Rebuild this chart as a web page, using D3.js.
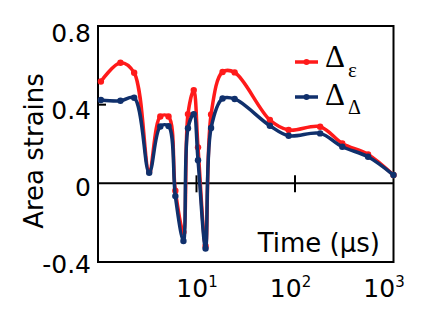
<!DOCTYPE html>
<html>
<head>
<meta charset="utf-8">
<script src="https://cdn.jsdelivr.net/npm/d3@7"></script>
<style>
  body { margin: 0; background: #fff; }
  text { font-family: "DejaVu Sans", sans-serif; fill: #000; }
</style>
</head>
<body>
<div id="chart"></div>
<script>
// Values
const times = [1.07, 1.69, 2.33, 3.31, 4.29, 5.2, 6.1, 7.37, 8.19, 9.38, 10.36, 12.36, 14.06, 18.4, 24.4, 55.6, 86.2, 180, 302, 552, 1000];
const strainEps = [0.518, 0.613, 0.562, 0.063, 0.340, 0.340, -0.038, -0.248, 0.352, 0.474, 0.183, -0.319, 0.350, 0.566, 0.564, 0.322, 0.271, 0.288, 0.203, 0.147, 0.042];
const strainDelta = [0.424, 0.420, 0.435, 0.054, 0.289, 0.291, -0.065, -0.293, 0.280, 0.352, 0.118, -0.331, 0.281, 0.431, 0.429, 0.293, 0.242, 0.254, 0.186, 0.135, 0.042];
const yTicks = [-0.4, 0, 0.4, 0.8];
const yTickLabels = ["-0.4", "0", "0.4", "0.8"];
const xTicks = [10, 100, 1000];
const xTickExp = ["1", "2", "3"];

const width = 443, height = 326;
const plot = { left: 98, top: 26, right: 393.5, bottom: 262 };

const svg = d3.select("#chart").append("svg")
    .attr("width", width)
    .attr("height", height);

// Scales
const x = d3.scaleLog().domain([1, 1000]).range([plot.left, plot.right]);
const y = d3.scaleLinear().domain([-0.4, 0.8]).range([plot.bottom, plot.top]);
// tick labels sit slightly off the tick marks in the original
const xLab = d3.scaleLog().domain([1, 1000]).range([103.5, 384]);
const yLab = d3.scaleLinear().domain([-0.4, 0.8]).range([273, 42]);

// Frame
svg.append("rect")
    .attr("x", plot.left).attr("y", plot.top)
    .attr("width", plot.right - plot.left)
    .attr("height", plot.bottom - plot.top)
    .attr("fill", "none")
    .attr("stroke", "#000")
    .attr("stroke-width", 2);

// Zero line
svg.append("line")
    .attr("x1", plot.left).attr("x2", plot.right)
    .attr("y1", y(0)).attr("y2", y(0))
    .attr("stroke", "#000").attr("stroke-width", 2);

// Inward tick at 0.4
svg.append("line")
    .attr("x1", plot.left).attr("x2", plot.left + 8)
    .attr("y1", y(0.4)).attr("y2", y(0.4))
    .attr("stroke", "#000").attr("stroke-width", 2);

// Ticks crossing the zero line
svg.selectAll(".xtick")
    .data([10, 100])
    .enter().append("line")
    .attr("class", "xtick")
    .attr("x1", d => x(d)).attr("x2", d => x(d))
    .attr("y1", y(0) - 8).attr("y2", y(0) + 9)
    .attr("stroke", "#000").attr("stroke-width", 2);

// Y tick labels
svg.selectAll(".ylab")
    .data(yTicks)
    .enter().append("text")
    .attr("class", "ylab")
    .attr("x", 91)
    .attr("y", d => yLab(d))
    .attr("text-anchor", "end")
    .style("font-size", "25px")
    .text((d, i) => yTickLabels[i]);

// X tick labels (10^n)
const xl = svg.selectAll(".xlab")
    .data(xTicks)
    .enter().append("text")
    .attr("class", "xlab")
    .attr("x", d => xLab(d))
    .attr("y", 297)
    .attr("text-anchor", "middle")
    .style("font-size", "25px");
xl.append("tspan").text("10");
xl.append("tspan")
    .attr("dy", -10)
    .style("font-size", "15px")
    .text((d, i) => xTickExp[i]);

// Axis titles
svg.append("text")
    .attr("transform", "translate(43,151) rotate(-90)")
    .attr("text-anchor", "middle")
    .style("font-size", "26px")
    .text("Area strains");

svg.append("text")
    .attr("x", 380)
    .attr("y", 252)
    .attr("text-anchor", "end")
    .style("font-size", "26px")
    .text("Time (µs)");

// Series
const series = [
    { name: "eps", values: strainEps, color: "#ff1a1a" },
    { name: "delta", values: strainDelta, color: "#10306c" }
];

const line = d3.line()
    .x(d => x(d.t))
    .y(d => y(d.v))
    .curve(d3.curveCatmullRom.alpha(0.5));

series.forEach(s => {
    const pts = times.map((t, i) => ({ t, v: s.values[i] }));
    svg.append("path")
        .datum(pts)
        .attr("d", line)
        .attr("fill", "none")
        .attr("stroke", s.color)
        .attr("stroke-width", 3.5)
        .attr("stroke-linejoin", "round");
    svg.selectAll(".pt-" + s.name)
        .data(pts)
        .enter().append("circle")
        .attr("class", "pt-" + s.name)
        .attr("cx", d => x(d.t))
        .attr("cy", d => y(d.v))
        .attr("r", 3.2)
        .attr("fill", s.color);
});

// Legend
const legendItems = [
    { color: "#ff1a1a", sub: "ε", y: 62, ty: 67, sy: 77, subSize: 21 },
    { color: "#10306c", sub: "Δ", y: 97, ty: 105, sy: 114, subSize: 20 }
];
legendItems.forEach(d => {
    svg.append("line")
        .attr("x1", 295).attr("x2", 318)
        .attr("y1", d.y).attr("y2", d.y)
        .attr("stroke", d.color).attr("stroke-width", 3.5);
    svg.append("circle")
        .attr("cx", 306.5).attr("cy", d.y).attr("r", 3)
        .attr("fill", d.color);
    svg.append("text")
        .attr("x", 325).attr("y", d.ty)
        .style("font-family", "'Liberation Serif', serif")
        .style("font-size", "31px")
        .text("Δ");
    svg.append("text")
        .attr("x", 348).attr("y", d.sy)
        .style("font-family", "'Liberation Serif', serif")
        .style("font-size", d.subSize + "px")
        .text(d.sub);
});
</script>
</body>
</html>
